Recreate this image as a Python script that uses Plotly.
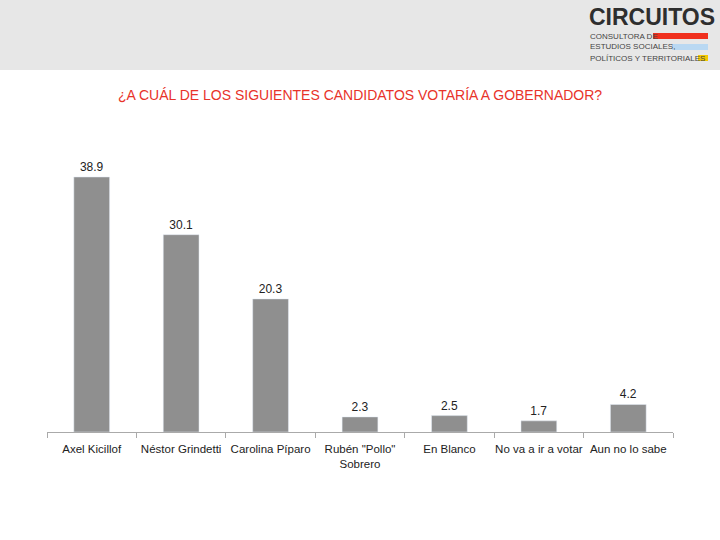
import plotly.graph_objects as go

categories = ["Axel Kicillof", "Néstor Grindetti", "Carolina Píparo", "Rubén \"Pollo\"<br>Sobrero", "En Blanco", "No va a ir a votar", "Aun no lo sabe"]
values = [38.9, 30.1, 20.3, 2.3, 2.5, 1.7, 4.2]
labels = ["38.9", "30.1", "20.3", "2.3", "2.5", "1.7", "4.2"]

fig = go.Figure(go.Bar(x=categories, y=values, text=labels, textposition="outside",
                       marker_color="#8f8f8f", width=0.4, cliponaxis=False,
                       textfont=dict(size=12, color="#222")))

W, H = 720, 540
L, R, T, B = 47, 47, 137, 108
fig.update_layout(
    width=W, height=H, paper_bgcolor="white", plot_bgcolor="white",
    margin=dict(l=L, r=R, t=T, b=B), showlegend=False,
    font=dict(family="Liberation Sans, Arial", color="#222"),
    xaxis=dict(showline=True, linecolor="#aaa", linewidth=1, ticks="outside", tickson="boundaries",
               ticklen=5, tickcolor="#aaa", tickangle=0, ticklabelstandoff=6,
               tickfont=dict(size=11.5, color="#222")),
    yaxis=dict(range=[0, 45], visible=False),
)
ph = H - T - B
pw = W - L - R
def px(x): return (x - L) / pw
def py(y): return (H - B - y) / ph
fig.layout.shapes = [
    dict(type="rect", xref="paper", yref="paper", x0=px(0), x1=px(720), y0=py(70), y1=py(0), line_width=0, fillcolor="#e7e7e7", layer="below"),
    dict(type="rect", xref="paper", yref="paper", x0=px(653), x1=px(708), y0=py(39), y1=py(33), line_width=0, fillcolor="#f0301e"),
    dict(type="rect", xref="paper", yref="paper", x0=px(672), x1=px(708), y0=py(50), y1=py(44), line_width=0, fillcolor="#b9d8f2"),
    dict(type="rect", xref="paper", yref="paper", x0=px(698), x1=px(708), y0=py(61), y1=py(55), line_width=0, fillcolor="#f5c800"),
]
ann = [
    dict(text="<b>CIRCUITOS</b>", x=px(587), y=py(17), size=23, color="#2e2e2e"),
    dict(text="CONSULTORA DE", x=px(588), y=py(36), size=8, color="#444"),
    dict(text="ESTUDIOS SOCIALES,", x=px(588), y=py(47), size=8, color="#444"),
    dict(text="POLÍTICOS Y TERRITORIALES", x=px(588), y=py(58), size=8, color="#444"),
]
fig.layout.annotations = [dict(text=a["text"], xref="paper", yref="paper", x=a["x"], y=a["y"], xanchor="left", yanchor="middle",
                               showarrow=False, font=dict(size=a["size"], color=a["color"])) for a in ann] + [
    dict(text="¿A CUÁL DE LOS SIGUIENTES CANDIDATOS VOTARÍA A GOBERNADOR?", xref="paper", yref="paper", x=px(360), y=py(95),
         xanchor="center", yanchor="middle", showarrow=False, font=dict(size=14, color="#e8332a"))]

fig.write_html("out.html", config={"displayModeBar": False})
with open("out.html", encoding="utf-8") as f:
    html = f.read()
html = html.replace("<body>", "<body style=\"margin:0\">", 1)
with open("out.html", "w", encoding="utf-8") as f:
    f.write(html)
